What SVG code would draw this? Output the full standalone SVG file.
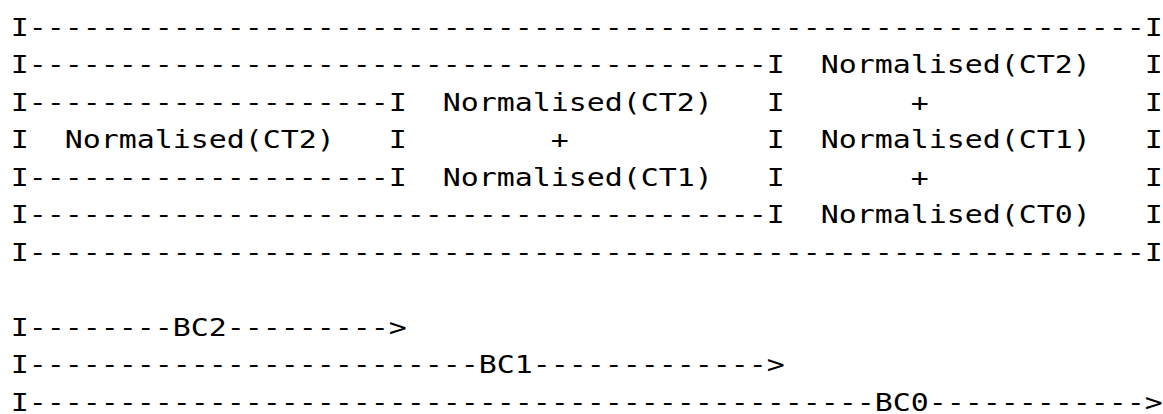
<svg xmlns="http://www.w3.org/2000/svg" width="1163" height="414" viewBox="0 0 1163 414">
<style>
text{font-family:"DejaVu Sans Mono","Liberation Mono",monospace;font-size:25px;fill:#000;white-space:pre}
</style>
<rect width="1163" height="414" fill="#fff"/>
<g id="box" xml:space="preserve">
<text x="10.7" y="35.5" textLength="1152" lengthAdjust="spacingAndGlyphs">I--------------------------------------------------------------I</text>
<text x="10.7" y="73" textLength="1152" lengthAdjust="spacingAndGlyphs">I-----------------------------------------I  Normalised(CT2)   I</text>
<text x="10.7" y="110.5" textLength="1152" lengthAdjust="spacingAndGlyphs">I--------------------I  Normalised(CT2)   I       +            I</text>
<text x="10.7" y="148" textLength="1152" lengthAdjust="spacingAndGlyphs">I  Normalised(CT2)   I        +           I  Normalised(CT1)   I</text>
<text x="10.7" y="185.5" textLength="1152" lengthAdjust="spacingAndGlyphs">I--------------------I  Normalised(CT1)   I       +            I</text>
<text x="10.7" y="223" textLength="1152" lengthAdjust="spacingAndGlyphs">I-----------------------------------------I  Normalised(CT0)   I</text>
<text x="10.7" y="260.5" textLength="1152" lengthAdjust="spacingAndGlyphs">I--------------------------------------------------------------I</text>
</g>
<g id="connectors" xml:space="preserve">
<text x="10.7" y="335.5" textLength="396" lengthAdjust="spacingAndGlyphs">I--------BC2---------&gt;</text>
<text x="10.7" y="373" textLength="774" lengthAdjust="spacingAndGlyphs">I-------------------------BC1-------------&gt;</text>
<text x="10.7" y="410.5" textLength="1152" lengthAdjust="spacingAndGlyphs">I-----------------------------------------------BC0------------&gt;</text>
</g>
</svg>
